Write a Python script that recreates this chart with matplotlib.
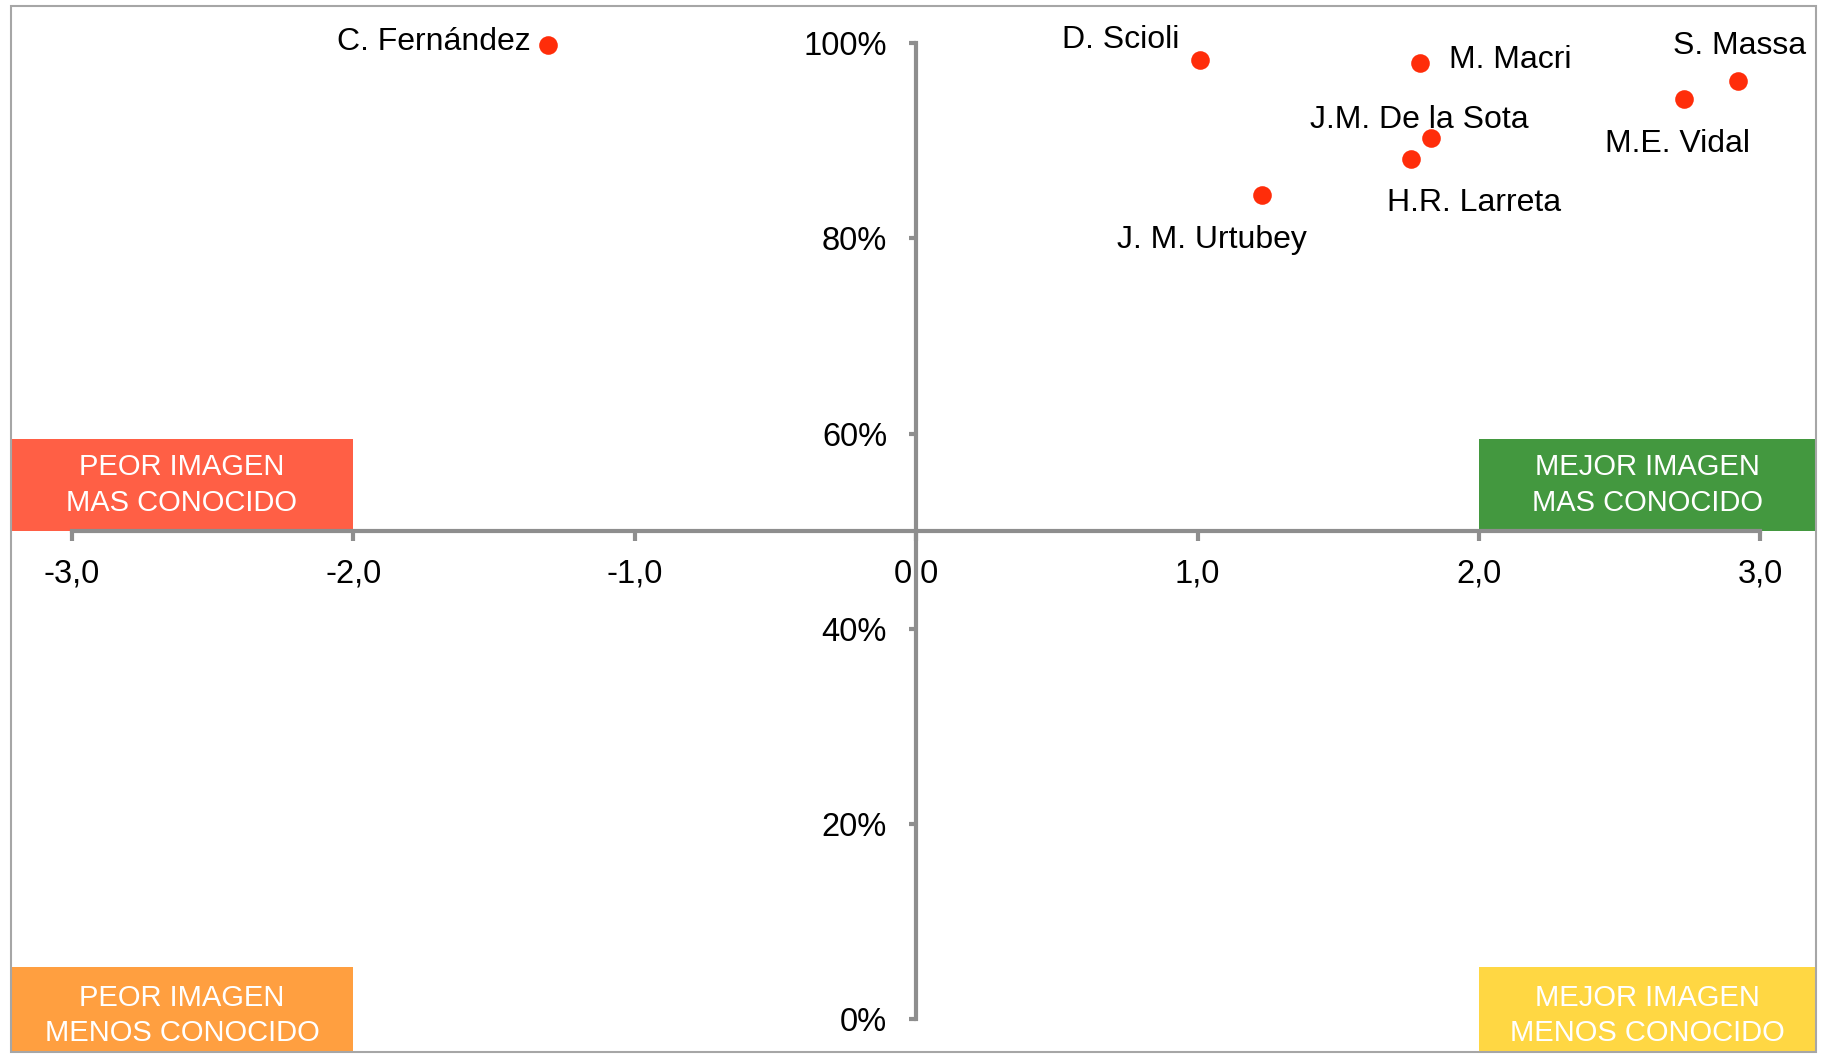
import matplotlib
matplotlib.use('Agg')
import matplotlib.pyplot as plt
from matplotlib.patches import Rectangle

plt.rcParams['font.family'] = ['Liberation Sans', 'DejaVu Sans']

# imagen (x) vs conocimiento (y)
names = ['C. Fernández', 'D. Scioli', 'M. Macri', 'S. Massa', 'M.E. Vidal',
         'J.M. De la Sota', 'H.R. Larreta', 'J. M. Urtubey']
imagen = [-1.31, 1.01, 1.79, 2.92, 2.73, 1.83, 1.76, 1.23]
conocido = [0.998, 0.983, 0.980, 0.961, 0.943, 0.903, 0.881, 0.844]

# label offsets in pixels + alignment
offsets = [(-17, 3, 'right'), (-21, 20, 'right'), (29, 3, 'left'), (2, 35, 'center'),
           (-7, -45, 'center'), (-12, 18, 'center'), (63, -44, 'center'), (-50, -45, 'center')]

xticks = [-3, -2, -1, 0, 1, 2, 3]
xlabels = ['-3,0', '-2,0', '-1,0', '0,0', '1,0', '2,0', '3,0']
yticks = [0, 0.2, 0.4, 0.6, 0.8, 1.0]
ylabels = ['0%', '20%', '40%', '60%', '80%', '100%']

quadrants = [
    ('PEOR IMAGEN\nMAS CONOCIDO', '#FF5F45', 'left', 'top'),
    ('MEJOR IMAGEN\nMAS CONOCIDO', '#43983F', 'right', 'top'),
    ('PEOR IMAGEN\nMENOS CONOCIDO', '#FF9F40', 'left', 'bottom'),
    ('MEJOR IMAGEN\nMENOS CONOCIDO', '#FFD743', 'right', 'bottom'),
]

fig = plt.figure(figsize=(18.27, 10.54), dpi=100)
ax = fig.add_axes([0.00575, 0.0019, 0.9882, 0.9924])
x0, x1 = -3.219, 3.198
y0, y1 = -0.0334, 1.038
ax.set_xlim(x0, x1)
ax.set_ylim(y0, y1)

axis_grey = '#8E8E8E'
for s in ['top', 'right']:
    ax.spines[s].set_visible(False)
ax.spines['left'].set_position(('data', 0))
ax.spines['left'].set_bounds(0, 1)
ax.spines['bottom'].set_position(('data', 0.5))
ax.spines['bottom'].set_bounds(-3, 3)
for s in ['left', 'bottom']:
    ax.spines[s].set_color(axis_grey)
    ax.spines[s].set_linewidth(3)
    ax.spines[s].set_zorder(3)

ax.set_xticks(xticks)
ax.set_xticklabels(xlabels)
ax.set_yticks(yticks)
ax.set_yticklabels(ylabels)
ax.tick_params(axis='x', direction='out', length=7.5, width=3, color=axis_grey,
               labelsize=23.5, pad=12)
ax.tick_params(axis='y', direction='out', length=5, width=3, color=axis_grey,
               labelsize=23.5, pad=16)

# frame
ax.add_patch(Rectangle((0, 0), 1, 1, transform=ax.transAxes, fill=False,
                       edgecolor='#A6A6A6', linewidth=1.5, clip_on=False, zorder=5))

# quadrant boxes
for text, col, side, pos in quadrants:
    if side == 'left':
        bx, bw = x0, -2 - x0
    else:
        bx, bw = 2, x1 - 2
    if pos == 'top':
        by, bh = 0.5, 0.095
        ty = 0.5 + 0.095 / 2
    else:
        by, bh = y0, 0.0537 - y0
        ty = 0.004
    ax.add_patch(Rectangle((bx, by), bw, bh, facecolor=col, edgecolor='none', zorder=1))
    ax.text(bx + bw / 2, ty, text, color='white', fontsize=21, ha='center', va='center',
            linespacing=1.35, zorder=4)

ax.scatter(imagen, conocido, s=180, color='#FF2D0A', zorder=6, linewidths=0)

for n, xv, yv, (dx, dy, ha) in zip(names, imagen, conocido, offsets):
    ax.annotate(n, (xv, yv), xytext=(dx, dy), textcoords='offset pixels',
                ha=ha, va='center', fontsize=23, zorder=7)

plt.savefig('out.png', dpi=100)
